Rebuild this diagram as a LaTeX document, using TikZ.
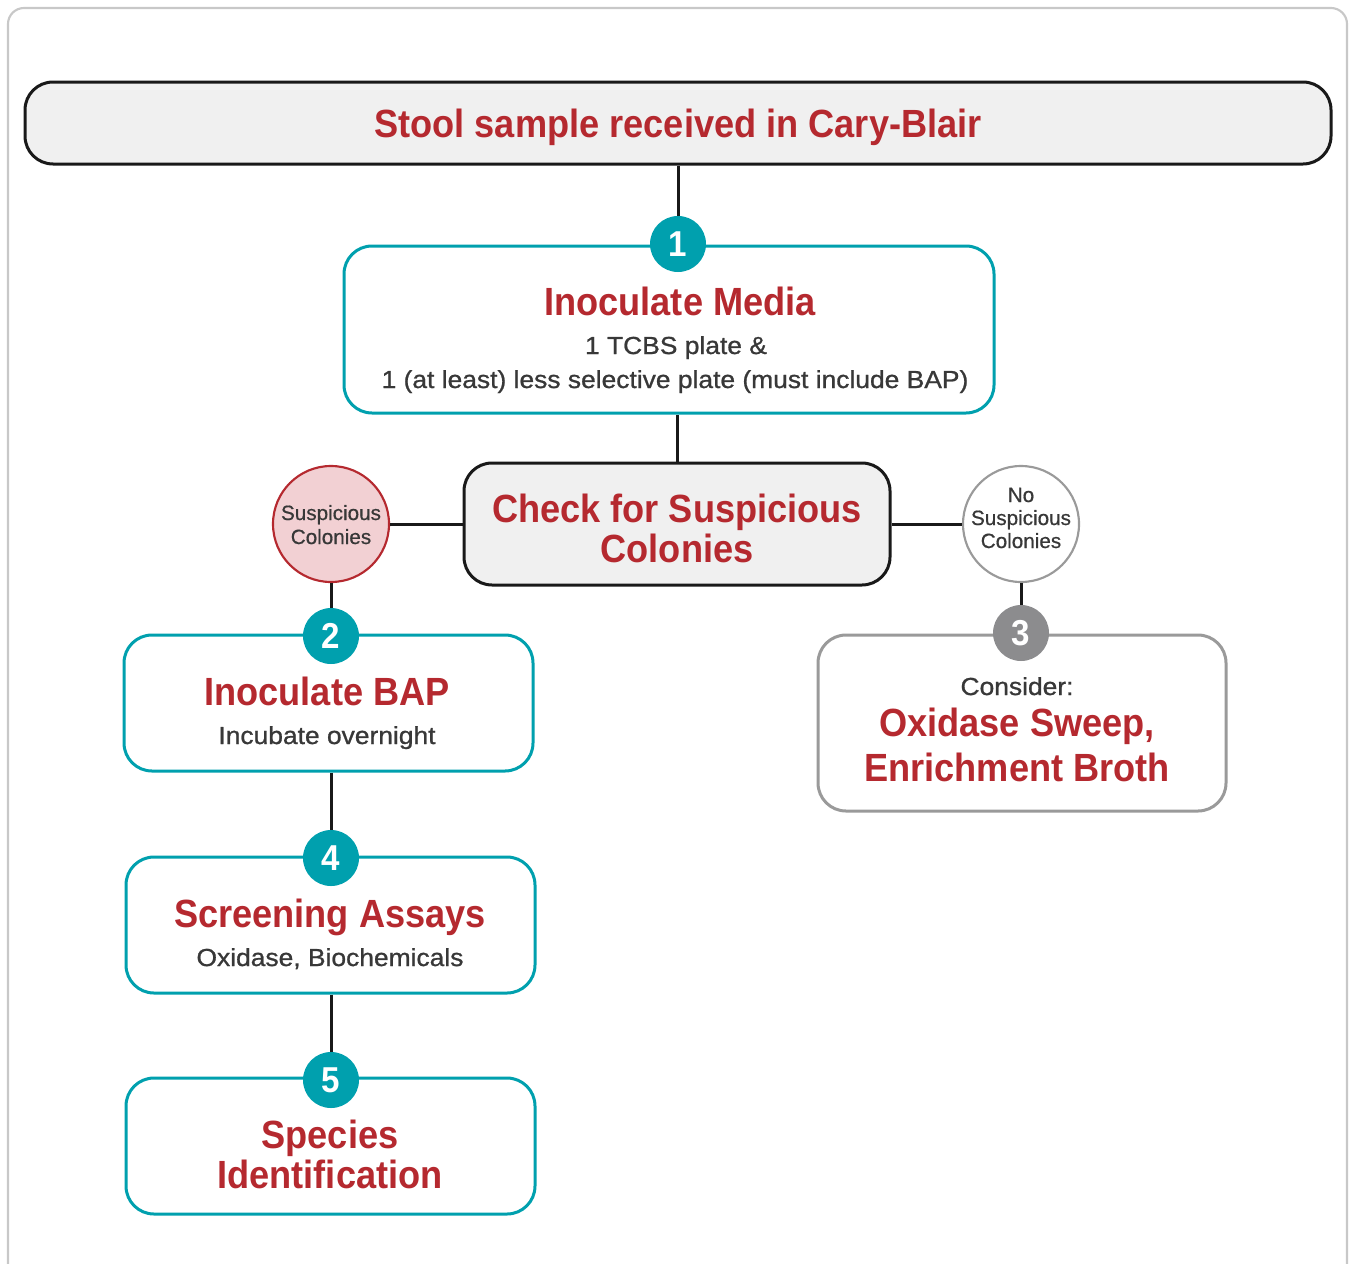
\documentclass[tikz,border=0pt]{standalone}
\usepackage{fontspec}
\setmainfont{Liberation Sans}
\newfontfamily\ttlfont{Liberation Sans}[FakeStretch=0.92]
\newfontfamily\bodyfont{Liberation Sans}[FakeStretch=1.07, FakeBold=0.9]
\newfontfamily\circfont{Liberation Sans}[FakeBold=0.6]
\usetikzlibrary{fit}
\definecolor{redc}{HTML}{B5292F}
\definecolor{tealc}{HTML}{00A0AE}
\definecolor{txtc}{HTML}{383838}
\definecolor{pinkc}{HTML}{F2D0D3}
\definecolor{lgray}{HTML}{F0F0F0}
\definecolor{grayc}{HTML}{9A9A9A}
\definecolor{numgray}{HTML}{8C8C8E}
\definecolor{framec}{HTML}{C8C8C8}
\tikzset{
  gbox/.style={draw=black!90, fill=lgray, line width=2.25pt, rounded corners=21pt, inner sep=0pt},
  tbox/.style={draw=tealc, fill=white, line width=2.25pt, rounded corners=21pt, inner sep=0pt},
  graybox/.style={draw=grayc, fill=white, line width=2.25pt, rounded corners=21pt, inner sep=0pt},
  numc/.style={circle, fill=tealc, minimum size=42pt, inner sep=0pt, text=white, font=\ttlfont\bfseries\fontsize{27}{27}\selectfont},
  ttl/.style={anchor=base, text=redc, font=\ttlfont\bfseries\fontsize{29.5}{30}\selectfont},
  sub/.style={anchor=base, text=txtc, font=\bodyfont\fontsize{18.5}{19}\selectfont},
  ctxt/.style={anchor=base, text=txtc, font=\circfont\fontsize{15.5}{16}\selectfont},
  conn/.style={draw=black!90, line width=2.25pt},
}
\begin{document}
\begin{tikzpicture}[x=0.75pt, y=-0.75pt]
\useasboundingbox (0,0) rectangle (1351,1263);
\draw[framec, line width=1.6pt, rounded corners=12pt] (8,1290) -- (8,8) -- (1347,8) -- (1347,1290);

% boxes
\node[gbox, fit={(25,82) (1331,164)}] (top) {};
\node[tbox, fit={(344,246) (994,413)}] (box1) {};
\node[gbox, fit={(464,463) (890,585)}] (check) {};
\node[tbox, fit={(124,635) (533,771)}] (box2) {};
\node[tbox, fit={(126,857) (535,993)}] (box4) {};
\node[tbox, fit={(126,1078) (535,1214)}] (box5) {};
\node[graybox, fit={(818,635) (1226,811)}] (box3) {};

% decision circles
\node[circle, draw=redc, fill=pinkc, line width=1.6pt, minimum size=87pt, inner sep=0pt] (sc) at (331,524) {};
\node[circle, draw=grayc, fill=white, line width=1.6pt, minimum size=87pt, inner sep=0pt] (nsc) at (1021,524) {};

% number circles
\node[numc] (c1) at (678,244) {1};
\node[numc] (c2) at (331,636) {2};
\node[numc] (c4) at (331,858) {4};
\node[numc] (c5) at (331,1080) {5};
\node[numc, fill=numgray] (c3) at (1021,633) {3};

% connectors
\draw[conn] (top.south -| c1) -- (c1.north);
\draw[conn] (check.north) -- (check.north |- box1.south);
\draw[conn] (check.west) -- (sc.east);
\draw[conn] (check.east) -- (nsc.west);
\draw[conn] (sc.south) -- (c2.north);
\draw[conn] (nsc.south) -- (c3.north);
\draw[conn] (box2.south -| c4) -- (c4.north);
\draw[conn] (box4.south -| c5) -- (c5.north);

% texts
\node[ttl] (t0) at (678,137) {Stool sample received in Cary-Blair};
\node[ttl] (t1) at (680,315) {Inoculate Media};
\node[sub] (t1a) at (676,354) {1 TCBS plate \&};
\node[sub] (t1b) at (675,388) {1 (at least) less selective plate (must include BAP)};
\node[ttl] (tc1) at (677,522) {Check for Suspicious};
\node[ttl] (tc2) at (677,562) {Colonies};
\node[ctxt] (s1) at (331,520) {Suspicious};
\node[ctxt] (s2) at (331,544) {Colonies};
\node[ctxt] (n1) at (1021,502) {No};
\node[ctxt] (n2) at (1021,525) {Suspicious};
\node[ctxt] (n3) at (1021,548) {Colonies};
\node[ttl] (t2) at (327,705) {Inoculate BAP};
\node[sub] (t2a) at (327,744) {Incubate overnight};
\node[ttl] (t4) at (330,927) {Screening Assays};
\node[sub] (t4a) at (330,966) {Oxidase, Biochemicals};
\node[ttl] (t5) at (330,1148) {Species};
\node[ttl] (t5a) at (330,1188) {Identification};
\node[sub] (t3) at (1017,695) {Consider:};
\node[ttl] (t3a) at (1017,736) {Oxidase Sweep,};
\node[ttl] (t3b) at (1017,781) {Enrichment Broth};
\end{tikzpicture}
\end{document}
